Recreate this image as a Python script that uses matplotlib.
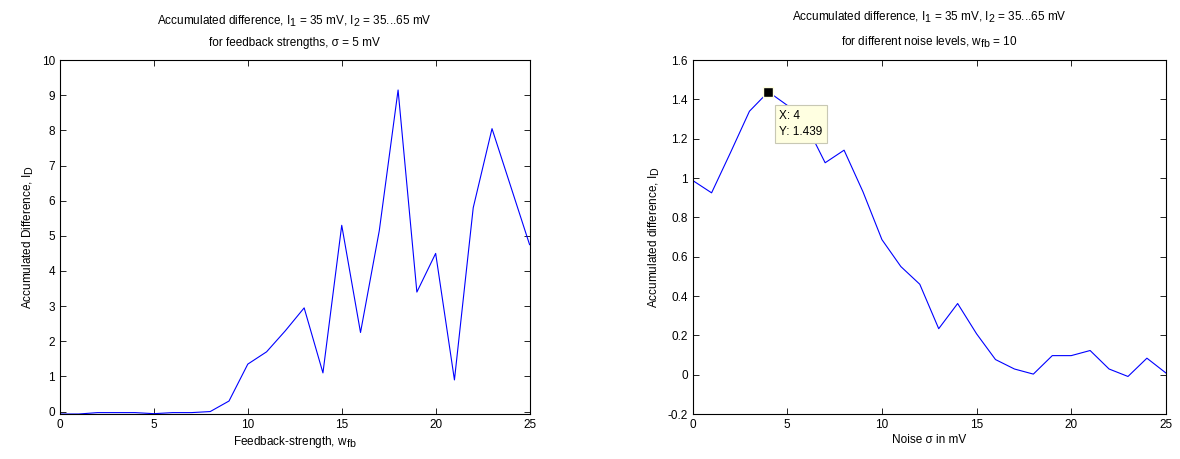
import matplotlib
matplotlib.use('Agg')
import matplotlib.pyplot as plt
import matplotlib._mathtext as mt

# bigger subscripts, closer to the MATLAB look
mt.SHRINK_FACTOR = 0.9

plt.rcParams['font.family'] = ['Liberation Sans', 'DejaVu Sans']
plt.rcParams['font.size'] = 8.5
plt.rcParams['mathtext.fontset'] = 'custom'
plt.rcParams['mathtext.rm'] = 'Liberation Sans'
plt.rcParams['mathtext.it'] = 'Liberation Sans'
plt.rcParams['mathtext.default'] = 'rm'

# left: accumulated difference vs feedback strength
w_fb = list(range(26))
diff_fb = [-0.07, -0.07, -0.03, -0.03, -0.03, -0.06, -0.03, -0.03, 0.0, 0.3,
           1.35, 1.7, 2.3, 2.95, 1.1, 5.3, 2.25, 5.15, 9.15, 3.4,
           4.5, 0.9, 5.8, 8.05, 6.4, 4.75]

# right: accumulated difference vs noise level
sigma = list(range(26))
diff_noise = [0.988, 0.925, 1.13, 1.34, 1.439, 1.37, 1.27, 1.078, 1.142, 0.93,
              0.687, 0.55, 0.46, 0.234, 0.362, 0.208, 0.077, 0.029, 0.003, 0.097,
              0.097, 0.123, 0.029, -0.009, 0.084, 0.009]

tip_x, tip_y = 4, 1.439

fig = plt.figure(figsize=(11.8, 4.59), dpi=100)
ax1 = fig.add_axes([0.0508, 0.098, 0.398, 0.771])
ax2 = fig.add_axes([0.587, 0.098, 0.401, 0.771])

for ax in (ax1, ax2):
    ax.tick_params(direction='in', top=True, right=True, length=4, width=0.6, labelsize=8.5)
    for s in ax.spines.values():
        s.set_linewidth(0.8)

ax1.plot(w_fb, diff_fb, color='#0000ff', lw=0.8)
ax1.set_xlim(0, 25)
ax1.set_ylim(-0.07, 10)
ax1.set_xticks([0, 5, 10, 15, 20, 25])
ax1.set_yticks(range(0, 11))
ax1.set_xlabel(r'Feedback-strength, w$_{fb}$', labelpad=2)
ax1.set_ylabel(r'Accumulated Difference, I$_D$', labelpad=4)
ax1.set_title('Accumulated difference, I$_1$ = 35 mV, I$_2$ = 35...65 mV\n'
              'for feedback strengths, σ = 5 mV', fontsize=8.5, linespacing=1.9, pad=10)

ax2.plot(sigma, diff_noise, color='#0000ff', lw=0.8)
ax2.set_xlim(0, 25)
ax2.set_ylim(-0.2, 1.6)
ax2.set_xticks([0, 5, 10, 15, 20, 25])
ax2.set_yticks([-0.2, 0, 0.2, 0.4, 0.6, 0.8, 1, 1.2, 1.4, 1.6])
ax2.set_yticklabels(['-0.2', '0', '0.2', '0.4', '0.6', '0.8', '1', '1.2', '1.4', '1.6'])
ax2.set_xlabel('Noise σ in mV', labelpad=2)
ax2.set_ylabel(r'Accumulated difference, I$_D$', labelpad=4)
ax2.set_title('Accumulated difference, I$_1$ = 35 mV, I$_2$ = 35...65 mV\n'
              r'for different noise levels, w$_{fb}$ = 10', fontsize=8.5, linespacing=1.9, pad=10)

# data tip
ax2.plot([tip_x], [tip_y], marker='s', ms=7, color='black', mec='#ffffe1', mew=1, zorder=5)
ax2.annotate('X: %g\nY: %.3f' % (tip_x, tip_y), xy=(tip_x, tip_y), xytext=(8, -13),
             textcoords='offset points', va='top', ha='left', fontsize=8.5,
             linespacing=1.5,
             bbox=dict(boxstyle='square,pad=0.4', fc='#ffffe1', ec='#c8c8b4', lw=0.8),
             zorder=6)

fig.savefig('out.png', dpi=100)
